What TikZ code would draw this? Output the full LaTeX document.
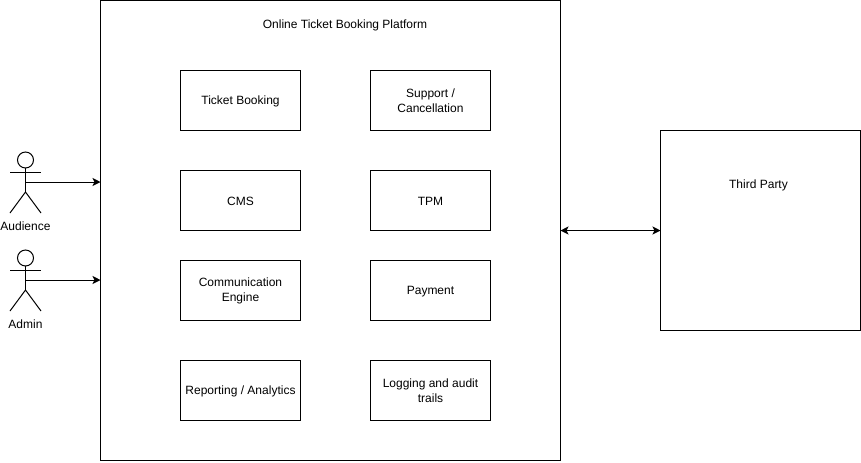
\documentclass[tikz,border=0pt]{standalone}
\usepackage{fontspec}
\setmainfont{Liberation Sans}
\usetikzlibrary{arrows.meta}
\tikzset{
  x=0.75pt,y=-0.75pt,
  every node/.style={font=\fontsize{9}{11.25}\selectfont,align=center,outer sep=0pt,inner sep=0pt},
  blockbox/.style={draw=black,line width=0.75pt,minimum width=90pt,minimum height=45pt,fill=white},
  outerbox/.style={draw=black,line width=0.75pt,fill=white},
  boxtext/.style={yshift=-0.5pt},
  stroke/.style={line width=0.75pt,draw=black},
  flow/.style={line width=0.75pt,draw=black,-{Stealth[length=6pt,width=6pt,inset=1.5pt]}},
  biflow/.style={line width=0.75pt,draw=black,{Stealth[length=6pt,width=6pt,inset=1.5pt]}-{Stealth[length=6pt,width=6pt,inset=1.5pt]}}
}
\begin{document}
\begin{tikzpicture}
\useasboundingbox (0,0) rectangle (861,462);
\fill[white] (0,0) rectangle (861,462);
% containers
\node[outerbox,minimum width=345pt,minimum height=345pt] (platform) at (330.5,230.5) {};
\node[outerbox,minimum width=150pt,minimum height=150pt] (third) at (760.5,230.5) {};
\node (platformlabel) at (345,25.5) {Online Ticket Booking Platform};
\node (thirdlabel) at (758.5,185.5) {Third Party};
% blocks
\node[blockbox,label={[boxtext]center:Ticket Booking}] (booking) at (240.5,100.5) {};
\node[blockbox,label={[boxtext]center:{Support /\\Cancellation}}] (support) at (430.5,100.5) {};
\node[blockbox,label={[boxtext]center:CMS}] (cms) at (240.5,200.5) {};
\node[blockbox,label={[boxtext]center:TPM}] (tpm) at (430.5,200.5) {};
\node[blockbox,label={[boxtext]center:{Communication\\Engine}}] (comm) at (240.5,290.5) {};
\node[blockbox,label={[boxtext]center:Payment}] (payment) at (430.5,290.5) {};
\node[blockbox,label={[boxtext]center:Reporting / Analytics}] (report) at (240.5,390.5) {};
\node[blockbox,label={[boxtext]center:{Logging and audit\\trails}}] (logging) at (430.5,390.5) {};
% actors
\foreach \nm/\hy in {aud/160,adm/258}{
  \coordinate (\nm head) at (25.5,\hy);
  \coordinate (\nm hip) at (25.5,\hy+32);
  \coordinate (\nm mid) at (25.5,\hy+22);
  \draw[stroke] (\nm head) circle[radius=8];
  \draw[stroke] (25.5,\hy+8) -- (\nm hip);
  \draw[stroke] (10,\hy+12) -- (41,\hy+12);
  \draw[stroke] (10,\hy+53) -- (\nm hip) -- (41,\hy+53);
}
\node (audlabel) at (25.5,226.3) {Audience};
\node (admlabel) at (25.5,324) {Admin};
% connectors
\draw[flow] (audmid) -- (audmid -| platform.west);
\draw[flow] (admmid) -- (admmid -| platform.west);
\draw[biflow] (platform.east) -- (third.west);
\end{tikzpicture}
\end{document}
